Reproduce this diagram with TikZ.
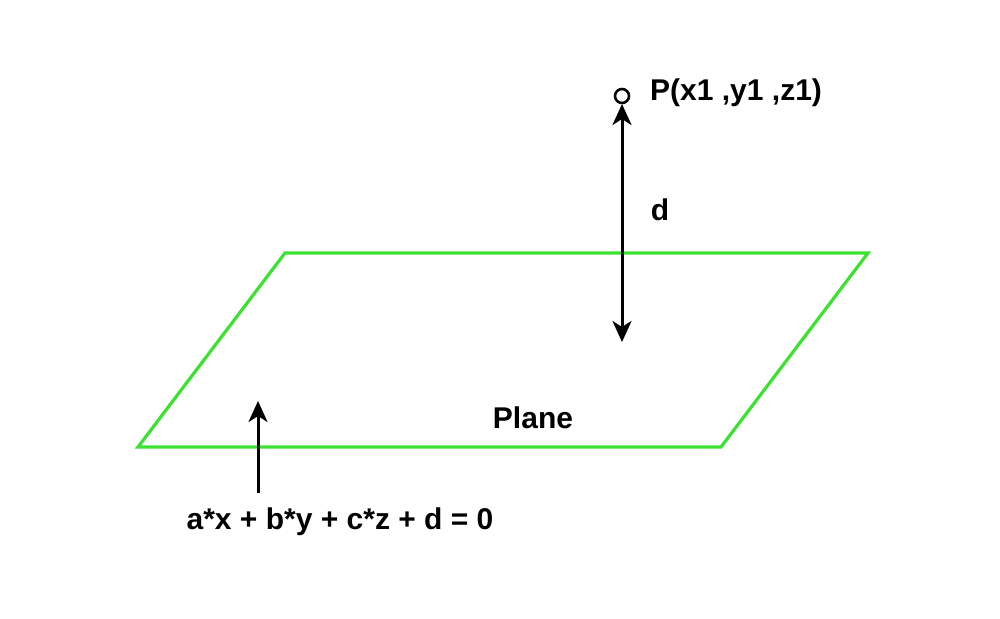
\documentclass[tikz,border=0pt]{standalone}
\usepackage{fontspec}
\setmainfont{Liberation Sans}
\usetikzlibrary{arrows.meta}
\definecolor{planegreen}{RGB}{60,225,50}
\begin{document}
\begin{tikzpicture}[x=1pt,y=-1pt,
  lbl/.style={font=\bfseries\fontsize{30}{36}\selectfont, inner sep=0pt},
  tip/.tip={Stealth[length=21pt,width=19pt,inset=6pt]},
  arr/.style={line width=3pt, -tip},
  plane/.style={draw=planegreen, line width=3.2pt, line join=miter}]
\useasboundingbox (0,0) rectangle (1000,618);
\coordinate (A) at (285,253);
\coordinate (B) at (868,253);
\coordinate (C) at (721,447);
\coordinate (D) at (138,447);
\draw[plane] (A) -- (B) -- (C) -- (D) -- cycle;
\node[draw, circle, line width=2.6pt, minimum size=14pt, inner sep=0pt] (P) at (622,96) {};
\coordinate (dtop) at (622,104);
\coordinate (dbot) at (622,342);
\draw[arr, tip-tip] (dbot) -- (dtop);
\node[lbl, anchor=west] (Plabel) at (650,93) {P(x1 ,y1 ,z1)};
\node[lbl] (dlabel) at (660,210) {d};
\node[lbl] (planelabel) at (533,418) {Plane};
\node[lbl] (eq) at (340,522) {a*x + b*y + c*z + d = 0};
\coordinate (eqtail) at (258,493);
\coordinate (eqhead) at (258,401);
\draw[arr] (eqtail) -- (eqhead);
\end{tikzpicture}
\end{document}
